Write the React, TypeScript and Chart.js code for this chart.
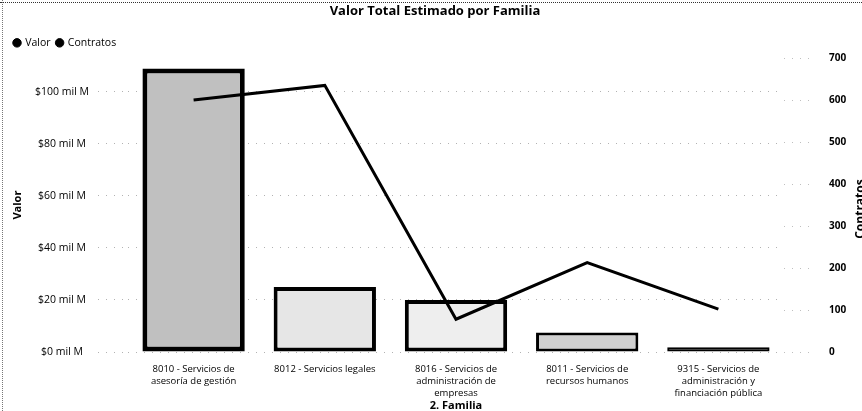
import { useEffect, useRef } from 'react';
import { Chart, registerables } from 'chart.js';

Chart.register(...registerables);

const categories: string[][] = [
  ['8010 - Servicios de', 'asesoría de gestión'],
  ['8012 - Servicios legales'],
  ['8016 - Servicios de', 'administración de', 'empresas'],
  ['8011 - Servicios de', 'recursos humanos'],
  ['9315 - Servicios de', 'administración y', 'financiación pública'],
];

// Valor (mil M)
const valor = [109, 25, 20, 7.5, 1.8];
// Contratos (count)
const contratos = [600, 635, 78, 213, 102];

const barFills = ['#c0c0c0', '#e6e6e6', '#eeeeee', '#d0d0d0', '#555555'];
const barBorders = [5, 4, 4, 3, 2];

const FONT = '"Open Sans", "Noto Sans", sans-serif';

const rightTitlePlugin = {
  id: 'rightTitle',
  afterDraw(chart: any) {
    const { ctx, chartArea } = chart;
    ctx.save();
    ctx.translate(chart.width + 2, (chartArea.top + chartArea.bottom) / 2 + 4);
    ctx.rotate(-Math.PI / 2);
    ctx.font = `bold 12px ${FONT}`;
    ctx.textAlign = 'center';
    ctx.textBaseline = 'alphabetic';
    ctx.fillStyle = '#000';
    ctx.fillText('Contratos', 0, 0);
    ctx.restore();
  },
};

export default function App() {
  const ref = useRef<HTMLCanvasElement | null>(null);

  useEffect(() => {
    if (!ref.current) return;
    const chart = new Chart(ref.current, {
      type: 'bar',
      data: {
        labels: categories,
        datasets: [
          {
            type: 'line',
            label: 'Contratos',
            data: contratos,
            yAxisID: 'y1',
            borderColor: '#000',
            backgroundColor: '#000',
            borderWidth: 3,
            pointRadius: 0,
            tension: 0,
            borderJoinStyle: 'miter',
          } as any,
          {
            type: 'bar',
            label: 'Valor',
            data: valor,
            yAxisID: 'y',
            backgroundColor: barFills,
            borderColor: '#000',
            borderWidth: barBorders,
            borderSkipped: false,
            barPercentage: 0.78,
            categoryPercentage: 1,
          } as any,
        ],
      },
      options: {
        responsive: false,
        animation: false,
        devicePixelRatio: 1,
        layout: { padding: { left: 8, right: 0, top: 0, bottom: 0 } },
        plugins: {
          tooltip: { enabled: false },
          title: {
            display: true,
            text: 'Valor Total Estimado por Familia',
            color: '#000',
            font: { family: FONT, size: 13, weight: 'bold' },
            padding: { top: 3, bottom: 13 },
          },
          legend: {
            display: true,
            position: 'top',
            align: 'start',
            labels: {
              usePointStyle: true,
              pointStyle: 'circle',
              boxWidth: 6,
              boxHeight: 6,
              padding: 6,
              color: '#000',
              font: { family: FONT, size: 10.5, weight: '500' },
              sort: (a: any, b: any) => b.datasetIndex - a.datasetIndex,
              generateLabels: (c: any) =>
                (Chart.defaults.plugins.legend.labels as any)
                  .generateLabels(c)
                  .map((l: any) => ({
                    ...l,
                    fillStyle: '#000',
                    strokeStyle: '#000',
                    lineWidth: 1,
                    pointStyle: 'circle',
                  })),
            },
          },
        },
        scales: {
          x: {
            type: 'category',
            grid: { display: false },
            border: { display: false },
            ticks: {
              color: '#000',
              font: { family: FONT, size: 9.5, weight: '500', lineHeight: 1.27 },
              padding: 3,
              maxRotation: 0,
              autoSkip: false,
            },
            title: {
              display: true,
              text: '2. Familia',
              color: '#000',
              font: { family: FONT, size: 11, weight: 'bold' },
              padding: { top: 0, bottom: -1 },
            },
            afterFit: (s: any) => {
              s.height = 59;
            },
          },
          y: {
            position: 'left',
            min: 0,
            max: 113,
            ticks: {
              stepSize: 20,
              includeBounds: false,
              crossAlign: 'center',
              padding: 9,
              color: '#000',
              font: { family: FONT, size: 10.5, weight: '500' },
              callback: (v: any) => `$${v} mil M`,
            },
            grid: {
              color: 'rgba(0,0,0,0.3)',
              lineWidth: 1,
              drawTicks: true,
              tickLength: 30,
              tickBorderDash: [1, 7],
            },
            border: { display: false, dash: [1, 7] },
            title: {
              display: true,
              text: 'Valor',
              color: '#000',
              font: { family: FONT, size: 11, weight: 'bold' },
              padding: { top: 3, bottom: 0 },
            },
            afterFit: (s: any) => {
              s.width = 120;
            },
          },
          y1: {
            position: 'right',
            min: 0,
            max: 700,
            ticks: {
              stepSize: 100,
              includeBounds: false,
              padding: 17,
              color: '#000',
              font: { family: FONT, size: 10, weight: 'bold' },
            },
            grid: {
              drawOnChartArea: false,
              drawTicks: true,
              tickLength: 28,
              color: 'rgba(0,0,0,0.25)',
              tickBorderDash: [1, 7],
            },
            border: { display: false, dash: [1, 7] },
            afterFit: (s: any) => {
              s.width = 78;
            },
          },
        },
      } as any,
      plugins: [rightTitlePlugin],
    });
    return () => chart.destroy();
  }, []);

  return (
    <div
      style={{
        position: 'fixed',
        left: 0,
        top: 0,
        width: 862,
        height: 411,
        background: '#fff',
        overflow: 'hidden',
      }}
    >
      <canvas ref={ref} width={862} height={411} style={{ display: 'block' }} />
      <div
        style={{
          position: 'absolute',
          left: 0,
          top: 2,
          width: 862,
          borderTop: '1px dotted #333',
          pointerEvents: 'none',
        }}
      />
      <div
        style={{
          position: 'absolute',
          left: 2,
          top: 0,
          height: 411,
          borderLeft: '1px dotted #777',
          pointerEvents: 'none',
        }}
      />
    </div>
  );
}
